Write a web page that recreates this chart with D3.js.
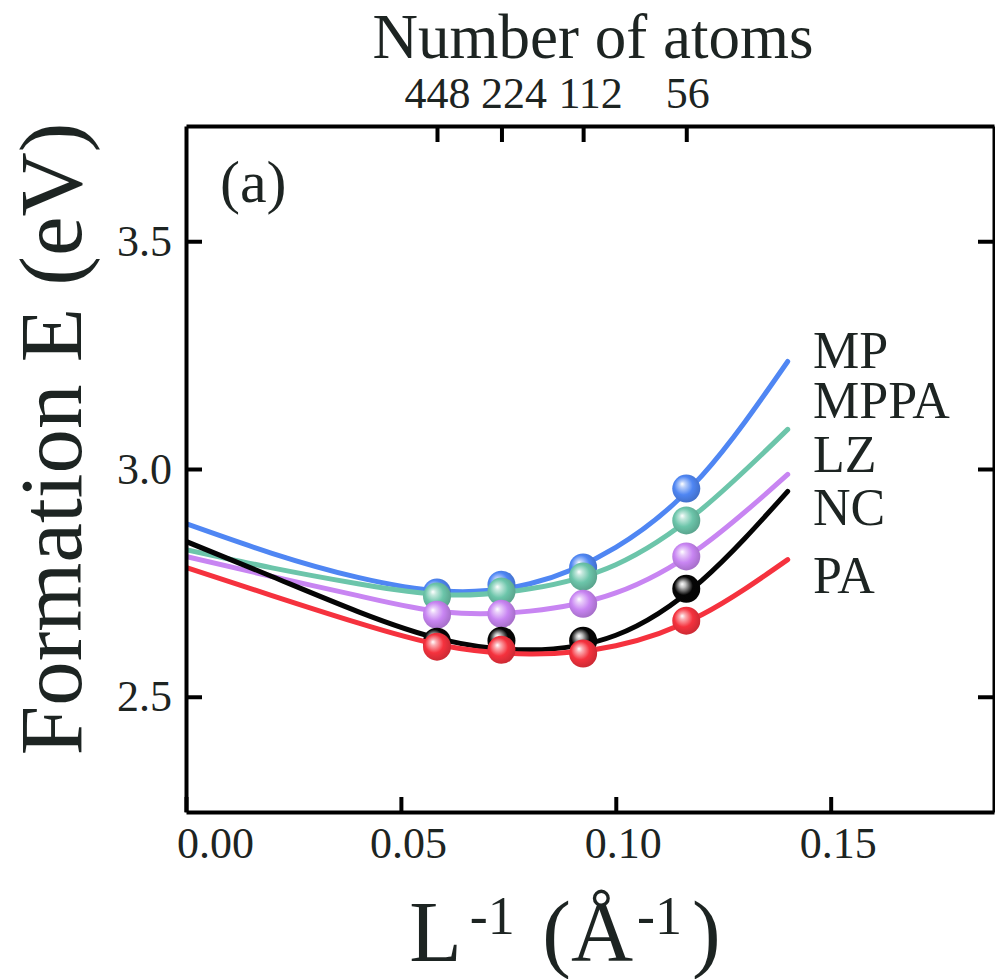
<!DOCTYPE html>
<html><head><meta charset="utf-8">
<script src="https://cdn.jsdelivr.net/npm/d3@7"></script>
<style>
html,body{margin:0;padding:0;background:#fff;}
svg{display:block;font-family:"Liberation Serif","Times New Roman",serif;}
</style></head>
<body>
<svg id="chart" width="995" height="979"></svg>
<script>
// ---------- data ----------
const seriesNames = ["MP", "MPPA", "LZ", "NC", "PA"];
const seriesColors = ["#4f86f3", "#6cc5aa", "#c885f2", "#050505", "#f5323e"];
const atomCounts = [448, 224, 112, 56];
const pointX = [0.0584, 0.0734, 0.0924, 0.1164];
const pointMP   = [2.729, 2.746, 2.784, 2.957];
const pointMPPA = [2.720, 2.731, 2.764, 2.887];
const pointLZ   = [2.680, 2.682, 2.704, 2.808];
const pointNC   = [2.621, 2.623, 2.623, 2.737];
const pointPA   = [2.610, 2.603, 2.595, 2.667];
const curveX    = [0.00, 0.02, 0.04, 0.06, 0.08, 0.10, 0.12, 0.14];
const curveMP   = [2.880, 2.815, 2.762, 2.732, 2.748, 2.828, 2.985, 3.236];
const curveMPPA = [2.823, 2.783, 2.748, 2.724, 2.737, 2.790, 2.912, 3.087];
const curveLZ   = [2.808, 2.764, 2.722, 2.686, 2.688, 2.728, 2.830, 2.988];
const curveNC   = [2.841, 2.764, 2.687, 2.625, 2.603, 2.635, 2.755, 2.951];
const curvePA   = [2.784, 2.722, 2.662, 2.612, 2.594, 2.612, 2.680, 2.801];
const xTickValues = [0.00, 0.05, 0.10, 0.15];
const yTickValues = [2.5, 3.0, 3.5];

const pointSets = [pointMP, pointMPPA, pointLZ, pointNC, pointPA];
const curveSets = [curveMP, curveMPPA, curveLZ, curveNC, curvePA];

// ---------- layout ----------
const L = 186, R = 994, T = 126, B = 812;
const textColor = "#1d2422";
const serif = '"Liberation Serif","Times New Roman",serif';
const svg = d3.select("#chart");
const x = d3.scaleLinear().domain([0, 0.188]).range([L, R]);
const y = d3.scaleLinear().domain([2.247, 3.753]).range([B, T]);

const defs = svg.append("defs");
defs.append("clipPath").attr("id", "plotclip")
  .append("rect").attr("x", L).attr("y", T).attr("width", R - L).attr("height", B - T);

seriesColors.forEach((c, i) => {
  const g = defs.append("radialGradient").attr("id", "ball" + i)
    .attr("cx", "45%").attr("cy", "45%").attr("r", "60%")
    .attr("fx", "35%").attr("fy", "33%");
  const base = d3.color(c);
  const light = d3.interpolateRgb(c, "#ffffff");
  g.append("stop").attr("offset", "0%").attr("stop-color", "#ffffff");
  g.append("stop").attr("offset", "18%").attr("stop-color", light(i === 3 ? 0.75 : 0.6));
  g.append("stop").attr("offset", "55%").attr("stop-color", c);
  g.append("stop").attr("offset", "100%").attr("stop-color", base.darker(0.6).formatHex());
});

// ---------- series ----------
const plot = svg.append("g").attr("clip-path", "url(#plotclip)");
const line = d3.line().x(d => x(d[0])).y(d => y(d[1])).curve(d3.curveNatural);

seriesNames.forEach((name, i) => {
  const g = plot.append("g");
  g.append("path")
    .datum(curveX.map((cx, k) => [cx, curveSets[i][k]]))
    .attr("d", line)
    .attr("fill", "none")
    .attr("stroke", seriesColors[i])
    .attr("stroke-width", 5)
    .attr("stroke-linecap", "round");
  g.selectAll("circle")
    .data(pointX.map((px, k) => [px, pointSets[i][k]]))
    .join("circle")
    .attr("cx", d => x(d[0]))
    .attr("cy", d => y(d[1]))
    .attr("r", 14)
    .attr("fill", `url(#ball${i})`);
});

// ---------- axes ----------
const fontTick = 44;
const styleAxis = (g) => {
  g.attr("font-family", serif).attr("font-size", fontTick);
  g.select(".domain").attr("stroke", "#000").attr("stroke-width", 4);
  g.selectAll(".tick line").attr("stroke", "#000").attr("stroke-width", 4);
  g.selectAll(".tick text").attr("fill", textColor)
    .style("font-size", fontTick + "px").style("font-family", serif);
};

const xAxis = svg.append("g").attr("transform", `translate(0,${B})`)
  .call(d3.axisBottom(x).tickValues(xTickValues).tickSize(-15).tickSizeOuter(0)
    .tickPadding(22).tickFormat(d3.format(".2f")));
styleAxis(xAxis);
xAxis.selectAll(".tick text").attr("dx", (d, i) => i === 0 ? 29 : 7).attr("dy", "0.55em");

const yAxis = svg.append("g").attr("transform", `translate(${L},0)`)
  .call(d3.axisLeft(y).tickValues(yTickValues).tickSize(-16).tickSizeOuter(0)
    .tickPadding(14).tickFormat(d3.format(".1f")));
styleAxis(yAxis);

const yAxisR = svg.append("g").attr("transform", `translate(${R},0)`)
  .call(d3.axisRight(y).tickValues(yTickValues).tickSize(-16).tickSizeOuter(0).tickFormat(""));
styleAxis(yAxisR);

const topAxis = svg.append("g").attr("transform", `translate(0,${T})`)
  .call(d3.axisTop(x).tickValues(pointX).tickSize(-16).tickSizeOuter(0)
    .tickPadding(18).tickFormat((d, i) => atomCounts[i]));
styleAxis(topAxis);
const topShift = [0, 12, 7, 1];
topAxis.selectAll(".tick text").attr("dx", (d, i) => topShift[i]);

// ---------- texts ----------
svg.append("text").attr("x", 220).attr("y", 202)
  .attr("fill", textColor).style("font-size", "60px").text("(a)");

const labelY = [368, 418, 472, 525, 593];
seriesNames.forEach((n, i) => {
  svg.append("text").attr("x", 813).attr("y", labelY[i])
    .attr("fill", textColor).style("font-size", "52px").text(n);
});

svg.append("text").attr("x", 593).attr("y", 58).attr("text-anchor", "middle")
  .attr("fill", textColor).style("font-size", "63px").text("Number of atoms");

svg.append("text")
  .attr("transform", "translate(81,439) rotate(-90)")
  .attr("text-anchor", "middle")
  .attr("fill", textColor).style("font-size", "89px").text("Formation E (eV)");

const xl = svg.append("text").attr("x", 565).attr("y", 961).attr("text-anchor", "middle")
  .attr("fill", textColor).style("font-size", "86px");
xl.append("tspan").text("L");
xl.append("tspan").attr("dx", 8).attr("dy", -27).style("font-size", "54px").text("-1");
xl.append("tspan").attr("dx", 6).attr("dy", 27).text(" (Å");
xl.append("tspan").attr("dx", 4).attr("dy", -27).style("font-size", "54px").text("-1");
xl.append("tspan").attr("dx", 10).attr("dy", 27).text(")");
</script>
</body></html>
